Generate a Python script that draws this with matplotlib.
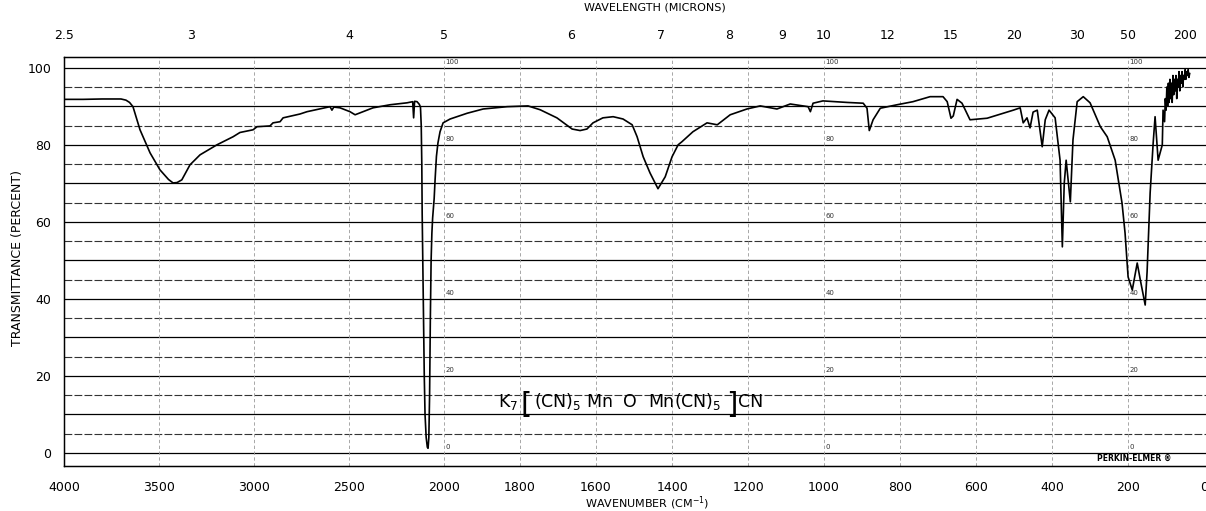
import numpy as np
import matplotlib
matplotlib.use('Agg')
import matplotlib.pyplot as plt

# spectrum, rows kept aligned (wavenumber cm-1 / % transmittance)
wavenumber = [4000, 3900, 3800, 3700, 3674, 3655, 3637, 3600, 3547, 3495,
              3450, 3426, 3405, 3380, 3337, 3284, 3195, 3110, 3074, 3005,
              2984, 2916, 2900, 2863, 2847, 2758, 2721, 2600, 2590, 2580,
              2547, 2495, 2468, 2442, 2374, 2284, 2195, 2165, 2160, 2155,
              2142, 2130, 2124, 2120, 2117, 2115, 2112, 2108, 2104, 2100,
              2094, 2088, 2084, 2080, 2076, 2072, 2068, 2064, 2060, 2056,
              2052, 2047, 2040, 2032, 2021, 2005, 1984, 1939, 1897, 1834,
              1779, 1747, 1703, 1663, 1642, 1624, 1608, 1582, 1555, 1537,
              1529, 1505, 1492, 1476, 1458, 1437, 1418, 1400, 1384, 1374,
              1345, 1308, 1281, 1247, 1203, 1168, 1124, 1089, 1042, 1036,
              1029, 1003, 939, 897, 887, 881, 871, 852, 808, 766,
              721, 687, 676, 666, 660, 650, 637, 616, 571, 502,
              484, 476, 466, 458, 450, 439, 426, 418, 408, 392,
              379, 373, 368, 363, 352, 345, 334, 318, 300, 273,
              255, 234, 216, 208, 200, 189, 176, 168, 155, 150,
              142, 134, 129, 121, 110, 108, 104, 102, 100, 98,
              96, 94, 92, 90, 88, 86, 84, 82, 80, 78,
              76, 74, 72, 70, 68, 66, 64, 62, 60, 58,
              56, 54, 52, 50, 48, 46, 44, 42, 40, 38]
transmittance = [91.8, 91.8, 91.9, 91.9, 91.6, 91.0, 89.9, 83.9, 77.9, 73.5,
                 71.0, 70.1, 70.2, 70.9, 74.8, 77.4, 80.0, 82.1, 83.2, 83.9,
                 84.7, 84.9, 85.7, 86.0, 87.0, 88.0, 88.6, 89.9, 89.0, 89.8,
                 89.6, 88.6, 87.8, 88.3, 89.6, 90.4, 90.9, 91.2, 87.0, 91.3,
                 91.2, 90.5, 89.8, 85.0, 75.0, 62.0, 50.0, 35.0, 20.0, 10.0,
                 4.0, 1.5, 1.2, 4.0, 15.0, 35.0, 50.0, 57.0, 61.0, 63.5,
                 66.0, 71.0, 77.0, 80.5, 83.4, 85.7, 86.7, 88.2, 89.3, 89.9,
                 90.1, 89.1, 87.0, 84.1, 83.7, 84.1, 85.7, 87.0, 87.3, 86.9,
                 86.7, 85.2, 82.1, 76.9, 72.7, 68.6, 71.7, 76.9, 80.0, 80.8,
                 83.4, 85.7, 85.2, 87.8, 89.3, 90.1, 89.3, 90.6, 89.9, 88.6,
                 90.8, 91.4, 91.0, 90.8, 89.5, 83.7, 86.5, 89.5, 90.4, 91.2,
                 92.5, 92.5, 91.2, 86.9, 87.5, 91.8, 90.8, 86.5, 86.9, 89.0,
                 89.6, 85.7, 87.0, 84.4, 88.5, 89.0, 79.5, 86.5, 89.0, 87.0,
                 76.0, 53.5, 70.0, 76.0, 65.2, 81.3, 91.2, 92.5, 90.9, 84.7,
                 82.1, 76.0, 64.9, 57.1, 45.7, 42.3, 49.3, 45.0, 38.4, 47.0,
                 67.5, 80.5, 87.3, 76.0, 80.0, 89.0, 86.0, 92.0, 89.0, 95.0,
                 90.0, 96.0, 91.0, 97.0, 92.0, 96.0, 91.0, 98.0, 93.0, 97.0,
                 94.0, 98.0, 92.0, 97.0, 95.0, 99.0, 94.0, 98.0, 96.0, 99.0,
                 95.0, 98.0, 97.0, 99.5, 97.0, 99.0, 98.0, 99.5, 97.5, 98.5]

bottom_ticks = [4000, 3500, 3000, 2500, 2000, 1800, 1600, 1400, 1200, 1000, 800, 600, 400, 200, 0]
bottom_labels = ['4000', '3500', '3000', '2500', '2000', '1800', '1600', '1400', '1200',
                 '1000', '800', '600', '400', '200', '0']
top_microns = [2.5, 3, 4, 5, 6, 7, 8, 9, 10, 12, 15, 20, 30, 50, 200]
top_labels = ['2.5', '3', '4', '5', '6', '7', '8', '9', '10', '12', '15', '20', '30', '50', '200']
y_ticks = [0, 20, 40, 60, 80, 100]
inner_label_pos = [2000, 1000, 200]


# scale halves above 2000 cm-1, like the chart paper
def fwd(x):
    x = np.asarray(x, dtype=float)
    return np.where(x > 2000, 2000 + (x - 2000) / 2, x)


def inv(t):
    t = np.asarray(t, dtype=float)
    return np.where(t > 2000, 2000 + 2 * (t - 2000), t)


fig = plt.figure(figsize=(12.06, 5.11), dpi=100)
ax = fig.add_axes([64 / 1206, 45 / 511, 1142 / 1206, 409 / 511])
ax.set_xscale('function', functions=(fwd, inv))
ax.set_xlim(4000, -5)
ax.set_ylim(-3.4, 102.8)

# chart paper grid
for v in range(0, 101, 10):
    ax.axhline(v, color='black', lw=0.9, zorder=1)
for v in range(5, 100, 10):
    ax.axhline(v, color='#333333', lw=0.8, ls=(0, (7, 2)), zorder=1)
for t in bottom_ticks[1:-1]:
    ax.axvline(t, color='#999999', lw=0.6, ls=(0, (4, 3)), zorder=1)

for x0 in inner_label_pos:
    for v in y_ticks:
        ax.annotate(str(v), (x0, v), xytext=(1, 2), textcoords='offset points',
                    fontsize=5, color='#333333', ha='left', va='bottom')

ax.plot(wavenumber, transmittance, color='black', lw=1.2, zorder=3)

ax.set_xticks(bottom_ticks)
ax.set_xticklabels(bottom_labels)
ax.set_yticks(y_ticks)
ax.tick_params(axis='x', length=0, pad=11, labelsize=9)
ax.tick_params(axis='y', length=0, pad=9, labelsize=9)
ax.xaxis.set_minor_locator(matplotlib.ticker.NullLocator())
for s in ['top', 'bottom', 'left']:
    ax.spines[s].set_linewidth(1.0)
ax.spines['right'].set_visible(False)

ax2 = ax.twiny()
ax2.set_xscale('function', functions=(fwd, inv))
ax2.set_xlim(ax.get_xlim())
ax2.set_xticks([10000 / m for m in top_microns])
ax2.set_xticklabels(top_labels)
ax2.xaxis.set_minor_locator(matplotlib.ticker.NullLocator())
ax2.tick_params(axis='x', length=0, pad=11, labelsize=9)
ax2.spines['right'].set_visible(False)

fig.text(18 / 1206, 0.495, 'TRANSMITTANCE (PERCENT)', rotation=90, ha='center', va='center',
         fontsize=9)
fig.text(647 / 1206, 8 / 511, 'WAVENUMBER (CM$^{-1}$)', ha='center', va='center', fontsize=8)
fig.text(655 / 1206, 1 - 8 / 511, 'WAVELENGTH (MICRONS)', ha='center', va='center', fontsize=8)

# compound label, pieces placed along the chart with tall brackets
fs = 12.5
ax.text(1858, 11.9, 'K$_7$', fontsize=fs, ha='left', va='baseline')
ax.text(1800, 10.3, '[', fontsize=21, ha='left', va='baseline')
ax.text(1764, 11.9, '(CN)$_5$ Mn', fontsize=fs, ha='left', va='baseline')
ax.text(1528, 11.9, 'O', fontsize=fs, ha='left', va='baseline')
ax.text(1462, 11.9, 'Mn(CN)$_5$', fontsize=fs, ha='left', va='baseline')
ax.text(1258, 10.3, ']', fontsize=21, ha='left', va='baseline')
ax.text(1226, 11.9, 'CN', fontsize=fs, ha='left', va='baseline')

ax.text(185, -1.5, 'PERKIN-ELMER ®', fontsize=5.5, fontweight='bold', ha='center', va='center')

fig.savefig('out.png', dpi=100)
